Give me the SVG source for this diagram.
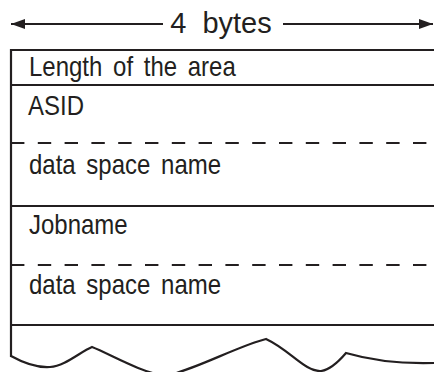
<svg xmlns="http://www.w3.org/2000/svg" width="434" height="372" viewBox="0 0 434 372">
<style>
.ln{stroke:#231f20;stroke-width:2.2;fill:none}
.dash{stroke:#231f20;stroke-width:2.2;fill:none;stroke-dasharray:13.4 13.4}
.t{font-family:"Liberation Sans",Arial,sans-serif;font-size:28px;fill:#231f20;word-spacing:4.7px}
.title{font-family:"Liberation Sans",Arial,sans-serif;font-size:29px;fill:#231f20;word-spacing:8px}
</style>
<defs>
<marker id="ah" viewBox="0 0 14 10" refX="14" refY="5" markerWidth="14" markerHeight="10" markerUnits="userSpaceOnUse" orient="auto-start-reverse">
<path d="M0,0 L14,5 L0,10 Z" fill="#231f20"/>
</marker>
</defs>
<rect width="434" height="372" fill="#ffffff"/>
<g id="connectors">
<line class="ln" x1="11" y1="24" x2="163" y2="24" marker-start="url(#ah)"/>
<line class="ln" x1="283" y1="24" x2="433" y2="24" marker-end="url(#ah)"/>
<text class="title" x="221" y="33" text-anchor="middle">4 bytes</text>
</g>
<g id="frame">
<line class="ln" x1="11" y1="50" x2="434" y2="50"/>
<line class="ln" x1="11" y1="49" x2="11" y2="357"/>
<path class="ln" d="M11,356 C20,361 35,368 50,367 C65,366 80,352 92,347 C110,354 140,372 165,376 C190,372 240,345 266,339 C290,350 305,372 321,371 C330,370 340,360 346,353 C370,360 400,364 434,363"/>
</g>
<g id="length">
<text class="t" transform="translate(29,76) scale(0.857,1)">Length of the area</text>
<line class="ln" x1="11" y1="85" x2="434" y2="85"/>
</g>
<g id="asid">
<text class="t" transform="translate(28,115) scale(0.857,1)">ASID</text>
<line class="dash" x1="11" y1="143" x2="434" y2="143"/>
</g>
<g id="dsname1">
<text class="t" transform="translate(29,174) scale(0.857,1)">data space name</text>
<line class="ln" x1="11" y1="206" x2="434" y2="206"/>
</g>
<g id="jobname">
<text class="t" transform="translate(29,234) scale(0.857,1)">Jobname</text>
<line class="dash" x1="11" y1="265" x2="434" y2="265"/>
</g>
<g id="dsname2">
<text class="t" transform="translate(29,294) scale(0.857,1)">data space name</text>
<line class="ln" x1="11" y1="325" x2="434" y2="325"/>
</g>
</svg>
